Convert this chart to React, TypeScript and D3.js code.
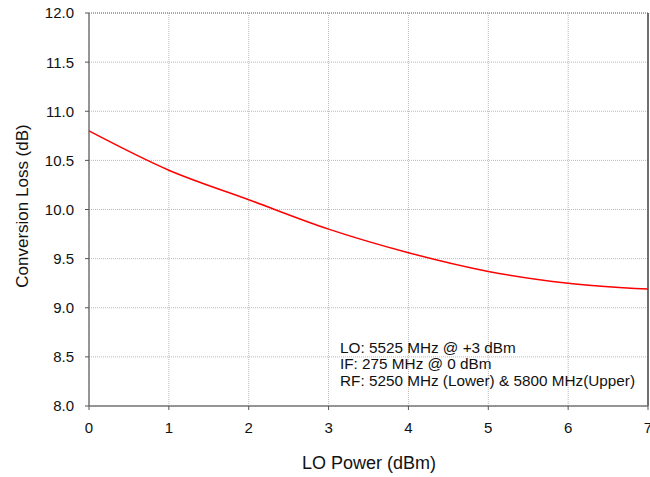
import React from "react";
import * as d3 from "d3";

const loPower = [0, 1, 2, 3, 4, 5, 6, 7];
const conversionLoss = [10.8, 10.4, 10.1, 9.8, 9.56, 9.37, 9.25, 9.19];
const xTicks = [0, 1, 2, 3, 4, 5, 6, 7];
const yTicks = [8.0, 8.5, 9.0, 9.5, 10.0, 10.5, 11.0, 11.5, 12.0];
const notes = [
  "LO: 5525 MHz @ +3 dBm",
  "IF: 275 MHz @ 0 dBm",
  "RF: 5250 MHz (Lower) & 5800 MHz(Upper)",
];

export default function App() {
  const W = 650, H = 477;
  const left = 89, right = 648, top = 13, bottom = 406;
  const x = d3.scaleLinear().domain([0, 7]).range([left, right]);
  const y = d3.scaleLinear().domain([8, 12]).range([bottom, top]);
  const pts = loPower.map((p, i) => [p, conversionLoss[i]] as [number, number]);
  const line = d3
    .line<[number, number]>()
    .x((d) => x(d[0]))
    .y((d) => y(d[1]))
    .curve(d3.curveMonotoneX);
  const font = "Liberation Sans, Arial, sans-serif";
  return (
    <svg
      width={W}
      height={H}
      style={{ position: "absolute", left: 0, top: 0, background: "#fff" }}
      fontFamily={font}
    >
      <rect x={0} y={0} width={W} height={H} fill="#fff" />
      {yTicks.map((t) => (
        <line
          key={"gy" + t}
          x1={left}
          x2={right}
          y1={y(t)}
          y2={y(t)}
          stroke="#b8b8b8"
          strokeWidth={1}
          strokeDasharray="1,1"
        />
      ))}
      {xTicks.map((t) => (
        <line
          key={"gx" + t}
          x1={x(t)}
          x2={x(t)}
          y1={top}
          y2={bottom}
          stroke="#b8b8b8"
          strokeWidth={1}
          strokeDasharray="1,1"
        />
      ))}
      <line x1={left} x2={right} y1={top} y2={top} stroke="#999" strokeWidth={1.5} strokeDasharray="1,1" />
      <line x1={right} x2={right} y1={top} y2={bottom} stroke="#444" strokeWidth={1.5} />
      <line x1={left} x2={left} y1={top} y2={bottom} stroke="#777" strokeWidth={1.5} />
      <line x1={left} x2={right} y1={bottom} y2={bottom} stroke="#777" strokeWidth={1.5} />
      {yTicks.map((t) => (
        <g key={"ty" + t}>
          <line x1={left - 4} x2={left} y1={y(t)} y2={y(t)} stroke="#555" />
          <text x={74} y={y(t)} dy="0.36em" textAnchor="end" fontSize={15} fill="#111">
            {t.toFixed(1)}
          </text>
        </g>
      ))}
      {xTicks.map((t) => (
        <g key={"tx" + t}>
          <line x1={x(t)} x2={x(t)} y1={bottom} y2={bottom + 4} stroke="#555" />
          <text x={x(t)} y={432.5} textAnchor="middle" fontSize={15} fill="#111">
            {t}
          </text>
        </g>
      ))}
      <path d={line(pts) || ""} fill="none" stroke="#ff0000" strokeWidth={1.5} />
      {notes.map((n, i) => (
        <text key={n} x={340} y={352.5 + i * 16.8} fontSize={15.3} fill="#111">
          {n}
        </text>
      ))}
      <text x={369} y={468.5} textAnchor="middle" fontSize={18} fill="#111">
        LO Power (dBm)
      </text>
      <text
        transform={`translate(28,206) rotate(-90)`}
        textAnchor="middle"
        fontSize={17}
        fill="#111"
      >
        Conversion Loss (dB)
      </text>
    </svg>
  );
}
